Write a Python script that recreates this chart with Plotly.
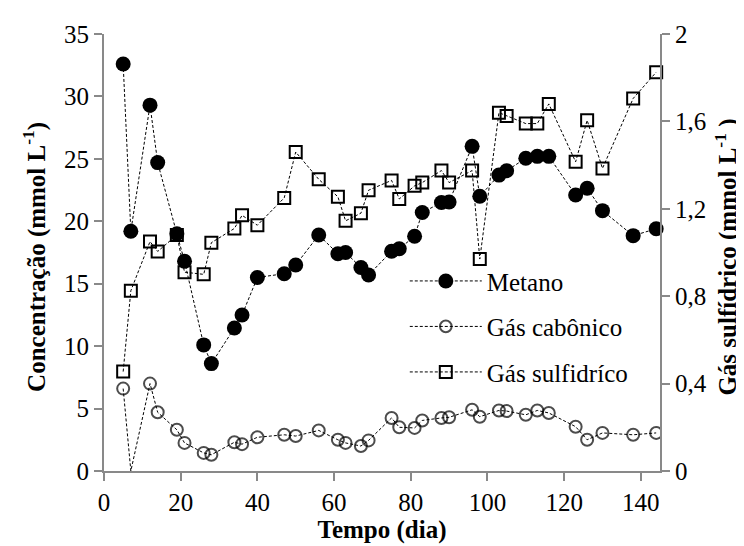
import plotly.graph_objects as go

dias = [5, 7, 12, 14, 19, 21, 26, 28, 34, 36, 40, 47, 50, 56, 61, 63, 67, 69, 75, 77,
        81, 83, 88, 90, 96, 98, 103, 105, 110, 113, 116, 123, 126, 130, 138, 144]

metano = [32.6, 19.2, 29.3, 24.7, 19.0, 16.8, 10.1, 8.6, 11.45, 12.5, 15.5, 15.8, 16.5,
          18.9, 17.4, 17.5, 16.3, 15.7, 17.6, 17.8, 18.8, 20.7, 21.5, 21.55, 26.0, 22.0,
          23.7, 24.05, 25.05, 25.2, 25.2, 22.1, 22.65, 20.85, 18.85, 19.4]

gas_carbonico = [6.6, 0.0, 7.0, 4.7, 3.3, 2.25, 1.45, 1.3, 2.3, 2.15, 2.7, 2.9, 2.8, 3.25,
                 2.5, 2.25, 2.0, 2.45, 4.25, 3.5, 3.45, 4.05, 4.25, 4.3, 4.9, 4.35, 4.85,
                 4.8, 4.5, 4.85, 4.65, 3.55, 2.5, 3.05, 2.9, 3.05]

gas_sulfidrico = [0.455, 0.825, 1.05, 1.005, 1.08, 0.91, 0.90, 1.045, 1.11, 1.17, 1.125,
                  1.25, 1.46, 1.335, 1.255, 1.145, 1.18, 1.285, 1.33, 1.245, 1.305, 1.32,
                  1.375, 1.32, 1.375, 0.97, 1.64, 1.625, 1.59, 1.59, 1.68, 1.415, 1.605,
                  1.385, 1.705, 1.825]

FONT = "Liberation Serif"
AXIS_COLOR = "#898989"
line_style = dict(color="black", width=1, dash="3px,2px")

fig = go.Figure()

fig.add_trace(go.Scatter(
    x=dias, y=metano, name="Metano", mode="lines+markers",
    line=line_style, legendgroup="a",
    marker=dict(symbol="circle", size=15, color="black"),
    yaxis="y", cliponaxis=False,
))
fig.add_trace(go.Scatter(
    x=dias, y=gas_carbonico, name="Gás cabônico", mode="lines+markers",
    line=line_style, legendgroup="b",
    marker=dict(symbol="circle-open", size=[0 if v <= 0 else 12 for v in gas_carbonico],
                color="black", line=dict(width=2, color="black")),
    yaxis="y",
))
fig.add_trace(go.Scatter(
    x=dias, y=gas_sulfidrico, name="Gás sulfidríco", mode="lines+markers",
    line=line_style, legendgroup="c",
    marker=dict(symbol="square-open", size=12, color="black",
                line=dict(width=2, color="black")),
    yaxis="y2", cliponaxis=False,
))

axis_common = dict(
    showline=True, linecolor=AXIS_COLOR, linewidth=2,
    ticks="outside", ticklen=8, tickwidth=2, tickcolor=AXIS_COLOR,
    showgrid=False, zeroline=False,
    tickfont=dict(family=FONT, size=25, color="black"),
)

xtitle_font = dict(family=FONT, size=25, color="black")
ytitle_font = dict(family=FONT, size=25, color="black")

fig.update_layout(
    width=744, height=546,
    margin=dict(l=96, r=92, t=26, b=83),
    paper_bgcolor="white", plot_bgcolor="white",
    separators=",.",
    font=dict(family=FONT, color="black"),
    xaxis=dict(
        range=[0, 145], tick0=0, dtick=20, **axis_common,
        title=dict(text="<b>Tempo (dia)</b>", font=xtitle_font, standoff=4),
    ),
    yaxis=dict(range=[0, 35], tick0=0, dtick=5, **axis_common),
    yaxis2=dict(range=[0, 2], tick0=0, dtick=0.4, overlaying="y", side="right",
                **axis_common),
    legend=dict(
        x=0.541, y=0.487, xanchor="left", yanchor="top",
        bgcolor="rgba(0,0,0,0)", borderwidth=0,
        font=dict(family=FONT, size=25, color="black"),
        itemwidth=72, tracegroupgap=10,
    ),
    showlegend=True,
    annotations=[
        dict(text="<b>Concentração (mmol L<sup>-1</sup>)</b>", textangle=-90,
             xref="paper", yref="paper", x=-0.124, y=0.49,
             xanchor="center", yanchor="middle", showarrow=False, font=ytitle_font),
        dict(text="<b>Gás sulfídrico (mmol L<sup>-1</sup> )</b>", textangle=-90,
             xref="paper", yref="paper", x=1.12, y=0.49,
             xanchor="center", yanchor="middle", showarrow=False, font=ytitle_font),
    ],
)

fig.write_html("out.html")
